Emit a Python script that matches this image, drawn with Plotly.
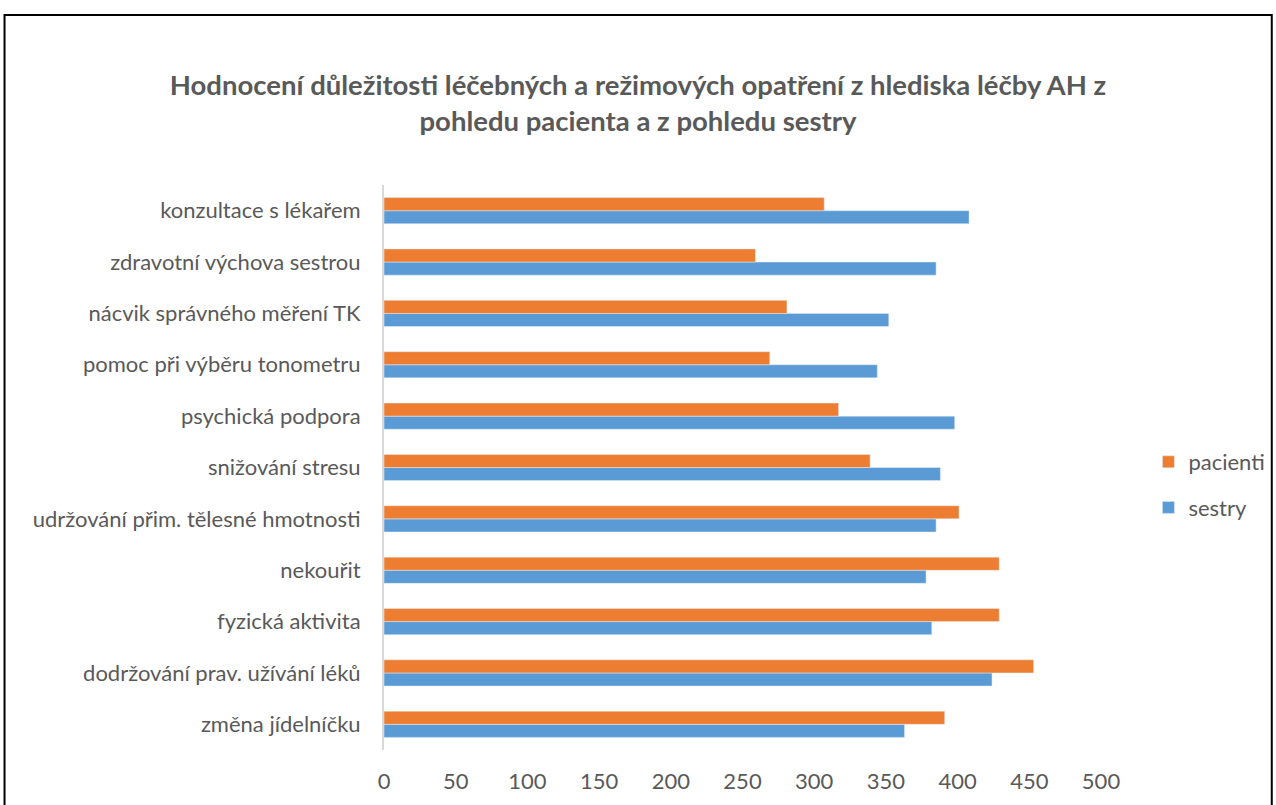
import plotly.graph_objects as go

categories = [
    "změna jídelníčku",
    "dodržování prav. užívání léků",
    "fyzická aktivita",
    "nekouřit",
    "udržování přim. tělesné hmotnosti",
    "snižování stresu",
    "psychická podpora",
    "pomoc při výběru tonometru",
    "nácvik správného měření TK",
    "zdravotní výchova sestrou",
    "konzultace s lékařem",
]
pacienti = [391, 453, 429, 429, 401, 339, 317, 269, 281, 259, 307]
sestry = [363, 424, 382, 378, 385, 388, 398, 344, 352, 385, 408]
x_ticks = [0, 50, 100, 150, 200, 250, 300, 350, 400, 450, 500]

title_text = ("Hodnocení důležitosti léčebných a režimových opatření z hlediska léčby AH z"
              "<br>pohledu pacienta a z pohledu sestry")

FONT = "Lato"
GREY = "#595959"

W, H = 1276, 805
L, R, T, B = 383.5, 174.5, 185, 55
pw, ph = W - L - R, H - T - B

fig = go.Figure()
fig.add_trace(go.Bar(y=categories, x=sestry, name="sestry", orientation="h",
                     marker=dict(color="#5B9BD5"), legendrank=2, legendgroup="s"))
fig.add_trace(go.Bar(y=categories, x=pacienti, name="pacienti", orientation="h",
                     marker=dict(color="#ED7D31"), legendrank=1, legendgroup="p"))

def px(xpix):
    return (xpix - L) / pw

def py(ypix):
    return (H - B - ypix) / ph

fig.update_layout(
    width=W, height=H,
    margin=dict(l=L, r=R, t=T, b=B, autoexpand=False),
    paper_bgcolor="white", plot_bgcolor="white",
    barmode="group", bargap=0.49, bargroupgap=0,
    title=dict(text=title_text, x=0.5, xref="container", xanchor="center",
               y=1 - 95 / H, yref="container", yanchor="middle",
               font=dict(family=FONT, size=27.5, color=GREY, weight="bold")),
    font=dict(family=FONT, size=22, color=GREY),
    xaxis=dict(range=[0, 500], tickvals=x_ticks, showgrid=False, zeroline=False,
               showline=False, ticks="", tickfont=dict(size=22, color=GREY),
               ticklabelstandoff=16),
    yaxis=dict(showgrid=False, zeroline=False, showline=True, linecolor="#D9D9D9",
               linewidth=2, ticks="", tickfont=dict(size=22, color=GREY),
               ticklabelstandoff=17),
    legend=dict(x=px(1149), xanchor="left", y=py(485), yanchor="middle",
                traceorder="grouped", bgcolor="rgba(0,0,0,0)",
                font=dict(size=22, color=GREY), itemwidth=30, tracegroupgap=14),
    showlegend=True,
    shapes=[dict(type="rect", xref="paper", yref="paper",
                 x0=px(3.5), x1=px(1272.5), y0=py(900), y1=py(15),
                 line=dict(color="black", width=2), fillcolor="rgba(0,0,0,0)",
                 layer="above")],
)

fig.write_html("out.html")
